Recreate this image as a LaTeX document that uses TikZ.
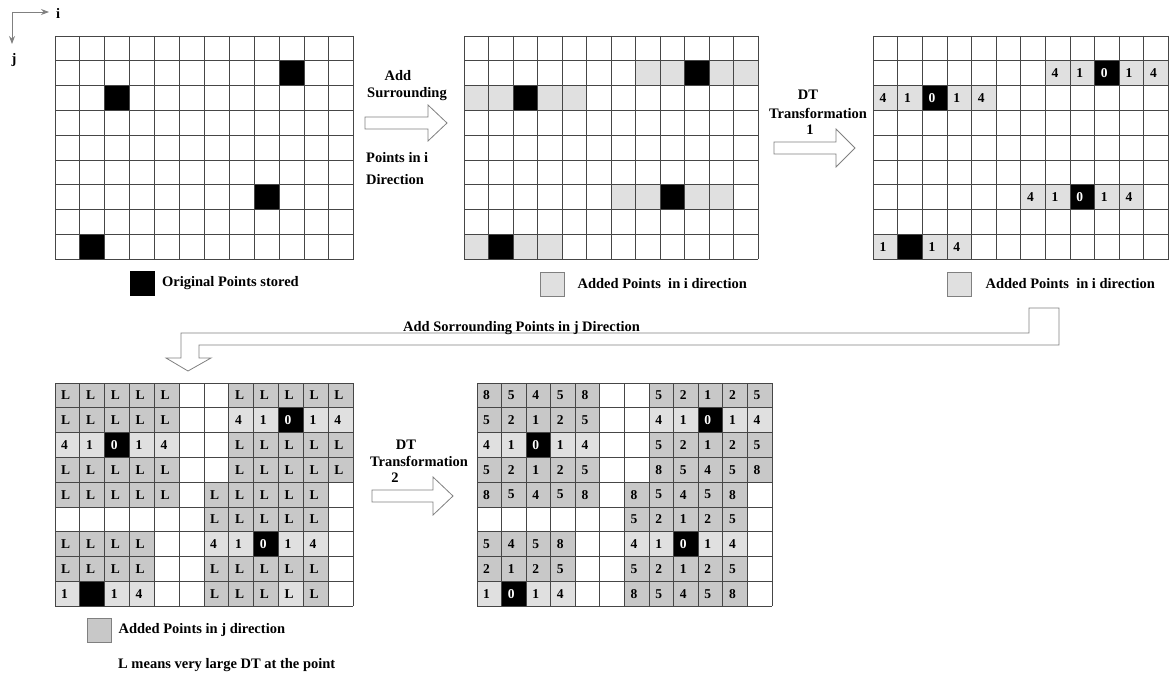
\documentclass[tikz,border=0pt]{standalone}
\usepackage{fontspec}
\setmainfont{Liberation Serif}
\usepackage{tikz}
\usetikzlibrary{arrows.meta, positioning}
\definecolor{cw}{HTML}{FFFFFF}
\definecolor{cl}{HTML}{E0E0E0}
\definecolor{cd}{HTML}{C8C8C8}
\definecolor{cb}{HTML}{000000}
\colorlet{tw}{black}
\colorlet{tl}{black}
\colorlet{td}{black}
\colorlet{tb}{white}
\definecolor{gridcol}{HTML}{464646}
\definecolor{arrowcol}{HTML}{808080}

\begin{document}
\begin{tikzpicture}[x=1pt, y=-1pt, font=\fontsize{14.5}{17.5}\selectfont\bfseries,
  gridline/.style={draw=gridcol, line width=0.9pt},
  blockarrow/.style={draw=arrowcol, fill=white, line width=0.8pt, line join=miter},
  axisline/.style={draw=arrowcol, line width=0.9pt, -{Stealth[length=8pt, width=6pt]}},
  celltext/.style={anchor=west, inner sep=0pt, xshift=6pt, font=\fontsize{13.5}{15}\selectfont\bfseries},
  legendbox/.style={draw=arrowcol, line width=0.8pt, minimum width=24pt, minimum height=24pt, inner sep=0pt},
  legendtext/.style={inner sep=0pt},
  wordtext/.style={inner sep=0pt, anchor=base}]
  \useasboundingbox (0,0) rectangle (1169,674);

  % i / j axes
  \coordinate (origin) at (12,12);
  \node[legendtext, anchor=west] (ilab) at (56,13) {i};
  \node[legendtext, anchor=north] (jlab) at (14,53) {j};
  \draw[axisline, shorten >=7pt] (origin) -- (origin -| ilab.west);
  \draw[axisline, shorten >=9pt] (origin) -- (origin |- jlab.north);

  % grid 1: original points
  \begin{scope}[shift={(55,36)}, x=24.9pt, y=-24.8pt]
    \foreach \i/\j in {9/1, 2/2, 8/6, 1/8}
      \fill[black] (\i,\j) rectangle ++(1,1);
    \foreach \k in {0,...,12} \draw[gridline] (\k,0) -- (\k,9);
    \foreach \k in {0,...,9} \draw[gridline] (0,\k) -- (12,\k);
  \end{scope}

  % grid 2: surrounding points in i
  \begin{scope}[shift={(464,36)}, x=24.5pt, y=-24.8pt]
    \foreach \i/\j/\t in {7/1/l, 8/1/l, 9/1/b, 10/1/l, 11/1/l, 0/2/l, 1/2/l, 2/2/b, 3/2/l, 4/2/l,
                          6/6/l, 7/6/l, 8/6/b, 9/6/l, 10/6/l, 0/8/l, 1/8/b, 2/8/l, 3/8/l}
      \fill[fill=c\t] (\i,\j) rectangle ++(1,1);
    \foreach \k in {0,...,12} \draw[gridline] (\k,0) -- (\k,9);
    \foreach \k in {0,...,9} \draw[gridline] (0,\k) -- (12,\k);
  \end{scope}

  % grid 3: DT transformation 1
  \begin{scope}[shift={(873.3,36)}, x=24.6pt, y=-24.8pt]
    \foreach \i/\j/\t/\v in {7/1/l/4, 8/1/l/1, 9/1/b/0, 10/1/l/1, 11/1/l/4,
                             0/2/l/4, 1/2/l/1, 2/2/b/0, 3/2/l/1, 4/2/l/4,
                             6/6/l/4, 7/6/l/1, 8/6/b/0, 9/6/l/1, 10/6/l/4,
                             0/8/l/1, 1/8/b/{}, 2/8/l/1, 3/8/l/4}{
      \fill[fill=c\t] (\i,\j) rectangle ++(1,1);
      \node[celltext, text=t\t] (g3-\j-\i) at (\i,\j+0.5) {\v};
    }
    \foreach \k in {0,...,12} \draw[gridline] (\k,0) -- (\k,9);
    \foreach \k in {0,...,9} \draw[gridline] (0,\k) -- (12,\k);
  \end{scope}

  % grid 4: surrounding points in j
  \begin{scope}[shift={(55,383)}, x=24.83pt, y=-24.8pt]
    \foreach \row [count=\j from 0] in {
      {d/L,d/L,d/L,d/L,d/L,w/{},w/{},d/L,d/L,d/L,d/L,d/L},
      {d/L,d/L,d/L,d/L,d/L,w/{},w/{},l/4,l/1,b/0,l/1,l/4},
      {l/4,l/1,b/0,l/1,l/4,w/{},w/{},d/L,d/L,d/L,d/L,d/L},
      {d/L,d/L,d/L,d/L,d/L,w/{},w/{},d/L,d/L,d/L,d/L,d/L},
      {d/L,d/L,d/L,d/L,d/L,w/{},d/L,d/L,d/L,d/L,d/L,w/{}},
      {w/{},w/{},w/{},w/{},w/{},w/{},d/L,d/L,d/L,d/L,d/L,w/{}},
      {d/L,d/L,d/L,d/L,w/{},w/{},l/4,l/1,b/0,l/1,l/4,w/{}},
      {d/L,d/L,d/L,d/L,w/{},w/{},d/L,d/L,d/L,d/L,d/L,w/{}},
      {l/1,b/{},l/1,l/4,w/{},w/{},d/L,d/L,d/L,l/L,d/L,w/{}}}{
      \foreach \t/\v [count=\i from 0] in \row {
        \fill[fill=c\t] (\i,\j) rectangle ++(1,1);
        \node[celltext, text=t\t] (g4-\j-\i) at (\i,\j+0.5) {\v};
      }
    }
    \foreach \k in {0,...,12} \draw[gridline] (\k,0) -- (\k,9);
    \foreach \k in {0,...,9} \draw[gridline] (0,\k) -- (12,\k);
  \end{scope}

  % grid 5: DT transformation 2
  \begin{scope}[shift={(477,383)}, x=24.58pt, y=-24.8pt]
    \foreach \row [count=\j from 0] in {
      {d/8,d/5,d/4,d/5,d/8,w/{},w/{},d/5,d/2,d/1,d/2,d/5},
      {d/5,d/2,d/1,d/2,d/5,w/{},w/{},l/4,l/1,b/0,l/1,l/4},
      {l/4,l/1,b/0,l/1,l/4,w/{},w/{},d/5,d/2,d/1,d/2,d/5},
      {d/5,d/2,d/1,d/2,d/5,w/{},w/{},d/8,d/5,d/4,d/5,d/8},
      {d/8,d/5,d/4,d/5,d/8,w/{},d/8,d/5,d/4,d/5,d/8,w/{}},
      {w/{},w/{},w/{},w/{},w/{},w/{},d/5,d/2,d/1,d/2,d/5,w/{}},
      {d/5,d/4,d/5,d/8,w/{},w/{},l/4,l/1,b/0,l/1,l/4,w/{}},
      {d/2,d/1,d/2,d/5,w/{},w/{},d/5,d/2,d/1,d/2,d/5,w/{}},
      {l/1,b/0,l/1,l/4,w/{},w/{},d/8,d/5,d/4,d/5,d/8,w/{}}}{
      \foreach \t/\v [count=\i from 0] in \row {
        \fill[fill=c\t] (\i,\j) rectangle ++(1,1);
        \node[celltext, text=t\t] (g5-\j-\i) at (\i,\j+0.5) {\v};
      }
    }
    \foreach \k in {0,...,12} \draw[gridline] (\k,0) -- (\k,9);
    \foreach \k in {0,...,9} \draw[gridline] (0,\k) -- (12,\k);
  \end{scope}

  % block arrows and their words
  \draw[blockarrow] (365,117) -- (428,117) -- (428,105) -- (447,123) -- (428,141) -- (428,129) -- (365,129) -- cycle;
  \node[wordtext] (addw) at (398,81) {Add};
  \node[wordtext] (surrw) at (407,98) {Surrounding};
  \node[wordtext, anchor=base west] (ptsw) at (366,162) {Points in i};
  \node[wordtext, anchor=base west] (dirw) at (366,184) {Direction};

  \draw[blockarrow] (774,142) -- (836,142) -- (836,129) -- (855,148) -- (836,167) -- (836,154) -- (774,154) -- cycle;
  \node[wordtext] (dt1) at (808,100) {DT};
  \node[wordtext] (tr1) at (818,118) {Transformation};
  \node[wordtext] (one) at (810,135) {1};

  \draw[blockarrow] (372,490) -- (433,490) -- (433,477) -- (453,496) -- (433,515) -- (433,502) -- (372,502) -- cycle;
  \node[wordtext] (dt2) at (406,449) {DT};
  \node[wordtext] (tr2) at (419,466) {Transformation};
  \node[wordtext] (two) at (395,482) {2};

  % bent arrow down to grid 4
  \draw[blockarrow] (1029,308) -- (1059,308) -- (1059,345) -- (199,345) -- (199,358) -- (211,358)
    -- (188,371) -- (166,358) -- (181,358) -- (181,333) -- (1029,333) -- cycle;
  \node[wordtext, anchor=base west] (jdirw) at (403,331) {Add Sorrounding Points in j Direction};

  % legends
  \node[legendbox, draw=black, fill=black] (origbox) at (142.5,283.5) {};
  \node[legendtext, right=7pt of origbox] (origtxt) {Original Points stored};
  \node[legendbox, fill=cl] (ibox) at (552,284) {};
  \node[legendtext, right=13pt of ibox] (itxt) {Added Points~ in i direction};
  \node[legendbox, fill=cl] (ibox2) at (959,284) {};
  \node[legendtext, right=14pt of ibox2] (itxt2) {Added Points~ in i direction};
  \node[legendbox, fill=cd] (jbox) at (99,630.5) {};
  \node[legendtext, right=7pt of jbox] (jtxt) {Added Points in j direction};
  \node[legendtext, anchor=base west] (ltxt) at (118,668) {L means very large DT at the point};
\end{tikzpicture}
\end{document}
